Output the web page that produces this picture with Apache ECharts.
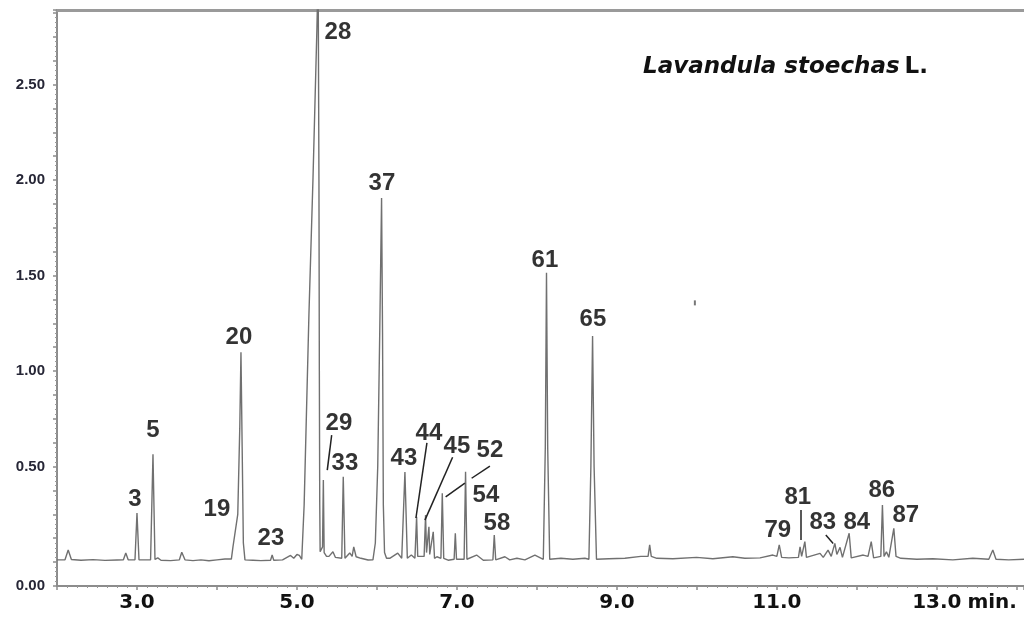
<!DOCTYPE html>
<html><head><meta charset="utf-8">
<script src="https://cdn.jsdelivr.net/npm/echarts@6/dist/echarts.min.js"></script>
<style>html,body{margin:0;padding:0;background:#fff}#c{width:1024px;height:624px}</style>
</head><body><div id="c"></div>
<script>
// Retention time (min) of trace points
const traceTime = [
 2.00,2.10,2.14,2.18,2.30,2.45,2.60,2.75,2.83,2.86,2.89,
 2.975,3.00,3.025,3.17,3.20,3.225,3.26,3.30,3.42,3.53,3.56,3.60,3.70,3.80,3.90,4.00,4.10,
 4.18,4.20,4.22,4.26,4.285,4.30,4.315,4.33,4.35,4.45,4.55,4.67,4.69,4.71,4.82,4.92,4.96,5.00,5.03,5.06,
 5.07,5.09,5.15,5.20,5.25,5.265,5.275,5.28,5.285,5.29,5.30,5.32,5.33,5.34,5.37,5.40,5.45,5.48,
 5.56,5.579,5.60,5.66,5.69,5.71,5.74,5.80,5.89,
 5.95,5.98,6.01,6.035,6.058,6.07,6.08,6.095,6.12,6.16,6.26,
 6.31,6.35,6.38,6.43,6.475,6.496,6.51,6.59,6.608,6.62,6.65,6.66,6.704,6.72,6.75,6.80,6.817,6.835,6.89,
 6.965,6.98,6.995,7.09,7.108,7.125,7.246,7.33,7.45,7.467,7.485,7.60,7.66,7.75,7.85,7.975,
 8.08,8.105,8.12,8.135,8.16,8.30,8.45,8.60,8.65,8.675,8.696,8.715,8.745,8.90,9.10,9.30,
 9.39,9.41,9.43,9.50,9.70,9.996,10.20,10.45,10.60,10.79,10.95,11.00,11.03,11.06,11.15,
 11.27,11.29,11.31,11.35,11.37,11.54,11.58,11.64,11.68,11.725,11.75,11.79,11.82,11.904,11.93,
 12.08,12.14,12.18,12.21,12.30,12.32,12.34,12.37,12.40,12.4625,12.49,12.55,12.75,12.95,
 13.20,13.45,13.65,13.70,13.74,13.90,14.09
];
// Detector signal
const traceSignal = [
 0.012,0.012,0.063,0.014,0.010,0.013,0.009,0.011,0.012,0.048,0.012,
 0.012,0.257,0.012,0.012,0.565,0.014,0.022,0.010,0.008,0.012,0.052,0.012,0.008,0.012,0.007,0.012,0.016,
 0.016,0.080,0.070,0.250,0.700,1.098,0.600,0.100,0.012,0.010,0.008,0.010,0.037,0.010,0.012,0.035,0.020,0.040,0.035,0.015,
 0.015,0.300,1.300,2.000,2.800,3.100,2.000,1.000,0.300,0.054,0.060,0.080,0.430,0.050,0.030,0.030,0.054,0.025,
 0.020,0.447,0.020,0.048,0.030,0.080,0.028,0.020,0.011,
 0.012,0.100,0.500,1.200,1.906,1.200,0.300,0.050,0.020,0.020,0.047,
 0.020,0.472,0.020,0.037,0.020,0.238,0.030,0.030,0.247,0.050,0.185,0.040,0.159,0.020,0.028,0.020,0.360,0.020,0.010,
 0.015,0.151,0.015,0.015,0.473,0.015,0.037,0.010,0.012,0.142,0.012,0.028,0.012,0.020,0.012,0.037,
 0.015,0.600,1.514,0.600,0.015,0.020,0.015,0.020,0.015,0.500,1.183,0.500,0.015,0.018,0.020,0.030,
 0.030,0.090,0.030,0.020,0.018,0.025,0.018,0.028,0.020,0.022,0.037,0.030,0.090,0.025,0.022,
 0.025,0.080,0.030,0.107,0.025,0.046,0.025,0.063,0.030,0.098,0.040,0.077,0.025,0.151,0.022,
 0.037,0.030,0.107,0.022,0.030,0.299,0.030,0.054,0.025,0.177,0.030,0.020,0.015,0.018,
 0.012,0.020,0.015,0.063,0.015,0.012,0.015
];
// Peak number labels and where they sit (data units)
const peakNames = ['3','5','19','20','23','28','29','33','37','43','44','45','52','54','58','61','65','79','81','83','84','86','87'];
const peakLabelTime = [2.975,3.20,4.00,4.275,4.675,5.5125,5.525,5.60,6.0625,6.3375,6.65,7.00,7.4125,7.3625,7.50,8.10,8.70,11.0125,11.2625,11.575,12.00,12.3125,12.6125];
const peakLabelSignal = [0.330,0.690,0.278,1.178,0.126,2.771,0.728,0.519,1.985,0.545,0.676,0.608,0.587,0.351,0.205,1.582,1.268,0.168,0.341,0.210,0.210,0.377,0.247];
// Leader lines [t1, v1, t2, v2]
const leaderLines = [
 [5.434,0.665,5.379,0.482],
 [6.625,0.624,6.4875,0.231],
 [6.946,0.549,6.60,0.220],
 [7.4125,0.503,7.184,0.439],
 [7.10,0.413,6.859,0.342],
 [11.30,0.273,11.30,0.116],
 [11.6125,0.142,11.704,0.098]
];
const strayMark = [[9.975,1.357]];
// Axis tick labels
const yLabelValues = [-0.125,0.5,1.0,1.5,2.0,2.5];
const yTickLabels = ['0.00','0.50','1.00','1.50','2.00','2.50'];
const xLabelValues = [3,5,7,9,11,13];
const xTickLabels = ['3.0','5.0','7.0','9.0','11.0','13.0'];
const titleItalic = 'Lavandula stoechas';
const titlePlain = 'L.';

function pick(vals, labels, v){
  for (let i=0;i<vals.length;i++) if (Math.abs(vals[i]-v)<1e-6) return labels[i];
  return '';
}

const chart = echarts.init(document.getElementById('c'), null, {renderer:'canvas'});
chart.setOption({
  animation:false,
  backgroundColor:'#ffffff',
  title:{
    text:'{i|'+titleItalic+'} {n|'+titlePlain+'}',
    left:643, top:54, padding:0,
    textStyle:{rich:{
      i:{fontFamily:'DejaVu Sans', fontStyle:'italic', fontWeight:'bold', fontSize:23, color:'#111', lineHeight:26},
      n:{fontFamily:'DejaVu Sans', fontWeight:'bold', fontSize:23, color:'#111', lineHeight:26}
    }}
  },
  grid:{left:57, right:0, top:10, bottom:38, outerBoundsMode:'none'},
  xAxis:[{
    type:'value', min:2, max:14.09, interval:1,
    axisLine:{onZero:false, lineStyle:{color:'#8c8c8c', width:2}},
    axisTick:{show:true, length:4, lineStyle:{color:'#8c8c8c', width:1.5}},
    minorTick:{show:true, splitNumber:8, length:2, lineStyle:{color:'#9a9a9a'}},
    splitLine:{show:false}, minorSplitLine:{show:false},
    axisLabel:{margin:7, fontFamily:'DejaVu Sans', fontWeight:'bold', fontSize:20, color:'#111',
      formatter:v=>pick(xLabelValues, xTickLabels, v)},
    name:'min.', nameLocation:'end', nameGap:-61,
    nameTextStyle:{fontFamily:'DejaVu Sans', fontWeight:'bold', fontSize:20, color:'#111', align:'left', verticalAlign:'top', padding:[7,0,0,0]}
  },{
    type:'value', position:'top', min:2, max:14.09,
    axisLine:{show:true, onZero:false, lineStyle:{color:'#9a9a9a', width:3}},
    axisTick:{show:false}, axisLabel:{show:false}, splitLine:{show:false}
  }],
  yAxis:{
    type:'value', min:-0.125, max:2.89, interval:0.125,
    axisLine:{show:true, onZero:false, lineStyle:{color:'#8c8c8c', width:2}},
    axisTick:{show:true, length:4, lineStyle:{color:'#8c8c8c', width:1.5}},
    minorTick:{show:true, splitNumber:5, length:2, lineStyle:{color:'#9a9a9a'}},
    splitLine:{show:false}, minorSplitLine:{show:false},
    axisLabel:{margin:12, fontFamily:'Liberation Sans', fontWeight:'bold', fontSize:15, color:'#262636',
      formatter:v=>pick(yLabelValues, yTickLabels, v)}
  },
  series:[{
    type:'line',
    data:traceTime.map((t,i)=>[t, traceSignal[i]]),
    showSymbol:false, clip:true, z:2,
    lineStyle:{color:'#707070', width:1.4},
    markLine:{
      silent:true, symbol:['none','none'], animation:false,
      label:{show:false},
      lineStyle:{color:'#222', width:1.5, type:'solid'},
      data:leaderLines.map(l=>[{coord:[l[0],l[1]]},{coord:[l[2],l[3]]}])
    }
  },{
    type:'scatter',
    data:peakNames.map((n,i)=>({name:n, value:[peakLabelTime[i], peakLabelSignal[i]]})),
    symbolSize:1, itemStyle:{color:'rgba(0,0,0,0)'}, z:3, silent:true,
    label:{show:true, position:'inside', formatter:'{b}', fontFamily:'Liberation Sans', fontWeight:'bold', fontSize:24, color:'#000'}
  },{
    type:'scatter', data:strayMark, symbol:'rect', symbolSize:[2,5],
    itemStyle:{color:'#555'}, silent:true
  }]
});
</script></body></html>
